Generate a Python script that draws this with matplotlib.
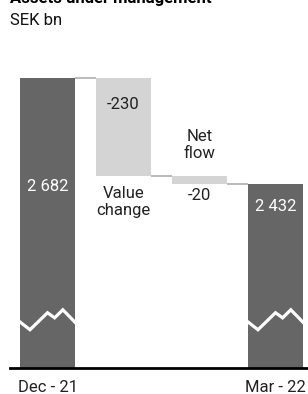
import numpy as np
import matplotlib
matplotlib.use("Agg")
import matplotlib.pyplot as plt

plt.rcParams['font.family'] = ['Roboto', 'DejaVu Sans']

# waterfall data, SEK bn
steps = ["Dec - 21", "Value\nchange", "Net\nflow", "Mar - 22"]
start_value = 2682
changes = [-230, -20]
end_value = 2432
value_labels = ["2 682", "-230", "-20", "2 432"]
tick_labels = ["Dec - 21", "", "", "Mar - 22"]
axis_floor = 2000  # broken axis, bars start here

dark = "#666666"
light = "#d3d4d3"
conn = "#b4b4b4"

fig = plt.figure(figsize=(3.08, 3.94), dpi=100)
ax = fig.add_axes([10 / 308, 26 / 394, 298 / 308, (368 - 40) / 394])

# running totals
levels = [start_value]
for c in changes:
    levels.append(levels[-1] + c)

width = 0.72
x = np.arange(len(steps))

# totals
ax.bar(x[0], start_value - axis_floor, bottom=axis_floor, width=width, color=dark)
ax.bar(x[3], end_value - axis_floor, bottom=axis_floor, width=width, color=dark)
# changes
for i, c in enumerate(changes):
    ax.bar(x[i + 1], -c, bottom=levels[i + 1], width=width, color=light)

# connector lines
for i, lvl in enumerate(levels):
    ax.plot([x[i] + width / 2, x[i + 1] - width / 2], [lvl, lvl], color=conn, lw=1.3,
            solid_capstyle='butt')

# axis break zigzags (relative shape inside the total bars)
zz_fx = [0.0, 0.18, 0.50, 0.63, 0.78, 1.0]
zz_dy = [2108, 2090, 2130, 2118, 2137, 2108]
for xi in (x[0], x[3]):
    xs = [xi - width / 2 + f * width for f in zz_fx]
    ax.plot(xs, zz_dy, color="white", lw=2.3, solid_joinstyle='miter')

fs = 12
txt = '#222222'
# value labels
ax.annotate(value_labels[0], (x[0], start_value), xytext=(0, -108), textcoords='offset pixels',
            ha='center', va='center', color='white', fontsize=fs)
ax.annotate(value_labels[1], (x[1], levels[0]), xytext=(0, -26), textcoords='offset pixels',
            ha='center', va='center', color=txt, fontsize=fs)
ax.annotate(steps[1], (x[1], levels[1]), xytext=(0, -26), textcoords='offset pixels',
            ha='center', va='center', color=txt, fontsize=fs, linespacing=1.2)
ax.annotate(steps[2], (x[2], levels[1]), xytext=(0, 31), textcoords='offset pixels',
            ha='center', va='center', color=txt, fontsize=fs, linespacing=1.2)
ax.annotate(value_labels[2], (x[2], levels[2]), xytext=(0, -11), textcoords='offset pixels',
            ha='center', va='center', color=txt, fontsize=fs)
ax.annotate(value_labels[3], (x[3], end_value), xytext=(0, -22), textcoords='offset pixels',
            ha='center', va='center', color='white', fontsize=fs)

ax.set_xlim(-(47.5 - 10) / 76, 3 + (308 - 275.5) / 76)
ax.set_ylim(axis_floor, start_value + 38 / 0.424)

for s in ("top", "right", "left"):
    ax.spines[s].set_visible(False)
ax.spines["bottom"].set_linewidth(2)
ax.spines["bottom"].set_color("black")
ax.set_yticks([])
ax.set_xticks(x)
ax.set_xticklabels(tick_labels, fontsize=fs, color=txt)
ax.tick_params(axis='x', length=0, pad=9)

fig.text(10 / 308, 1 - 3 / 394, "Assets under management", fontsize=fs, fontweight='bold',
         ha='left', va='baseline', color='black')
fig.text(10 / 308, 1 - 25 / 394, "SEK bn", fontsize=fs, ha='left', va='baseline', color='#111111')

fig.savefig("out.png", dpi=100)
